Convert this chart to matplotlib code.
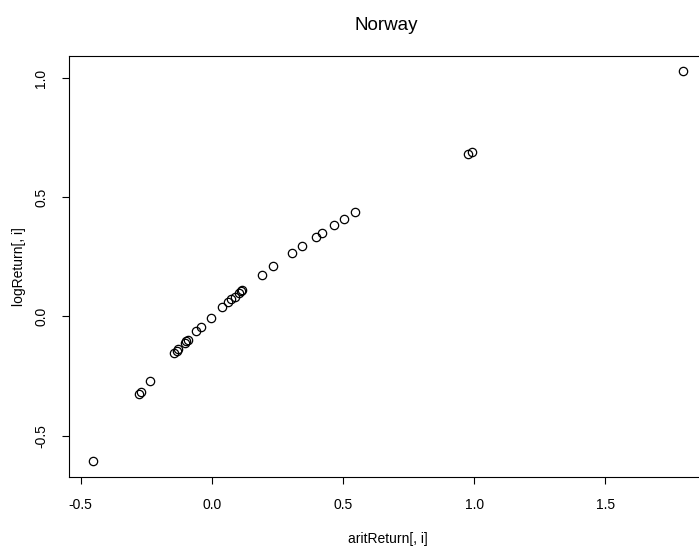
import matplotlib.pyplot as plt

plt.rcParams['font.family'] = ['Liberation Sans', 'DejaVu Sans']

# values
arit_return = [-0.455, -0.278, -0.272, -0.236, -0.144, -0.135, -0.128, -0.104,
               -0.098, -0.092, -0.060, -0.043, -0.005, 0.039, 0.062, 0.074,
               0.087, 0.103, 0.112, 0.115, 0.189, 0.233, 0.305, 0.343,
               0.395, 0.420, 0.467, 0.505, 0.546, 0.974, 0.993, 1.795]
log_return = [-0.607, -0.326, -0.318, -0.269, -0.155, -0.145, -0.137, -0.110,
              -0.103, -0.097, -0.062, -0.044, -0.005, 0.038, 0.060, 0.071,
              0.083, 0.098, 0.106, 0.109, 0.173, 0.210, 0.266, 0.295,
              0.333, 0.351, 0.383, 0.410, 0.436, 0.680, 0.689, 1.028]
x_ticks = [-0.5, 0.0, 0.5, 1.0, 1.5]
y_ticks = [-0.5, 0.0, 0.5, 1.0]

W, H = 699, 548
fig = plt.figure(figsize=(W / 100, H / 100), dpi=100)
left, right, top, bottom = 69, 706.5, 55.7, 476.7
ax = fig.add_axes([left / W, 1 - bottom / H, (right - left) / W, (bottom - top) / H])

ax.plot(arit_return, log_return, 'o', mfc='none', mec='black', ms=6, mew=0.9)

# R style 4% range extension
def r_lim(v):
    lo, hi = min(v), max(v)
    d = (hi - lo) * 0.04
    return lo - d, hi + d

ax.set_xlim(r_lim(arit_return))
ax.set_ylim(r_lim(log_return))
ax.set_xticks(x_ticks)
ax.set_xticklabels([f"{t:.1f}" for t in x_ticks])
ax.set_yticks(y_ticks)
ax.set_yticklabels([f"{t:.1f}" for t in y_ticks], rotation=90, va='center')
ax.tick_params(direction='out', length=5, width=0.8, labelsize=10, pad=10, colors='black')
for s in ax.spines.values():
    s.set_linewidth(0.8)

ax.set_xlabel("aritReturn[, i]", fontsize=10, labelpad=15)
ax.set_ylabel("logReturn[, i]", fontsize=10, labelpad=6)
fig.text(386 / W, 1 - 25 / H, "Norway", fontsize=13.5, ha='center', va='center')

fig.savefig("out.png", dpi=100)
